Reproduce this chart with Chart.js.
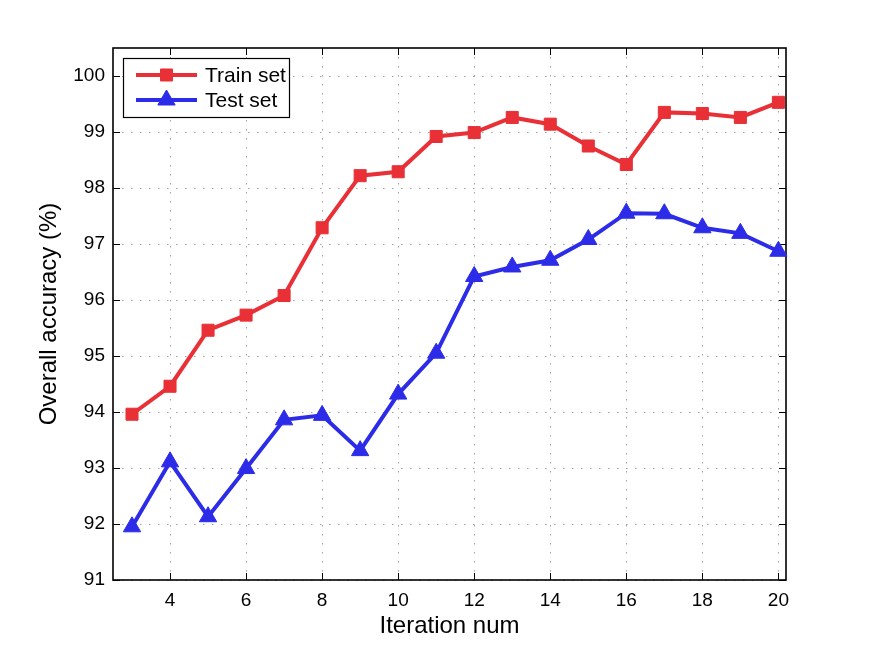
<!DOCTYPE html>
<html>
<head>
<meta charset="utf-8">
<script src="https://cdn.jsdelivr.net/npm/chart.js@4/dist/chart.umd.min.js"></script>
<style>
html,body{margin:0;padding:0;background:#fff;}
#wrap{width:869px;height:653px;}
</style>
</head>
<body>
<div id="wrap"><canvas id="c" width="869" height="653"></canvas></div>
<script>
const iterations = [3,4,5,6,7,8,9,10,11,12,13,14,15,16,17,18,19,20];
const trainSet = [93.96,94.46,95.46,95.73,96.08,97.29,98.22,98.29,98.92,98.99,99.26,99.14,98.75,98.42,99.35,99.33,99.26,99.53];
const testSet  = [91.95,93.11,92.13,92.99,93.86,93.94,93.31,94.32,95.05,96.42,96.59,96.71,97.08,97.55,97.54,97.29,97.19,96.87];
const xTicks = [4,6,8,10,12,14,16,18,20];
const yTicks = [91,92,93,94,95,96,97,98,99,100];
const seriesLabels = ['Train set','Test set'];
const xTitle = 'Iteration num';
const yTitle = 'Overall accuracy (%)';

const RED = 'rgb(232,48,54)';
const BLUE = 'rgb(44,44,232)';
const FONT = "'Liberation Sans', Arial, Helvetica, sans-serif";

const boxPlugin = {
  id: 'boxPlugin',
  beforeDatasetsDraw(chart) {
    const {ctx, chartArea: a, scales: {x, y}} = chart;
    ctx.save();
    ctx.strokeStyle = '#000';
    ctx.lineWidth = 1;
    const tl = 7;
    ctx.beginPath();
    xTicks.forEach(v => {
      const px = Math.round(x.getPixelForValue(v)) + 0.5;
      ctx.moveTo(px, a.bottom); ctx.lineTo(px, a.bottom - tl);
      ctx.moveTo(px, a.top); ctx.lineTo(px, a.top + tl);
    });
    yTicks.forEach(v => {
      const py = Math.round(y.getPixelForValue(v)) + 0.5;
      ctx.moveTo(a.left, py); ctx.lineTo(a.left + tl, py);
      ctx.moveTo(a.right, py); ctx.lineTo(a.right - tl, py);
    });
    ctx.stroke();
    ctx.lineWidth = 1.6;
    ctx.strokeRect(a.left, a.top, a.right - a.left, a.bottom - a.top);
    ctx.restore();
  },
  afterDatasetsDraw(chart) {
    const {ctx} = chart;
    const bx = 123, by = 58, bw = 166, bh = 59;
    ctx.save();
    ctx.fillStyle = '#fff';
    ctx.fillRect(bx, by, bw, bh);
    ctx.strokeStyle = '#000';
    ctx.lineWidth = 1.2;
    ctx.strokeRect(bx + 0.5, by + 0.5, bw, bh);
    const rows = [75, 100];
    chart.data.datasets.forEach((ds, i) => {
      const yy = rows[i];
      ctx.strokeStyle = ds.borderColor;
      ctx.lineWidth = ds.borderWidth;
      ctx.beginPath();
      ctx.moveTo(136, yy); ctx.lineTo(197, yy);
      ctx.stroke();
      ctx.fillStyle = ds.backgroundColor;
      ctx.strokeStyle = ds.borderColor;
      ctx.lineWidth = 1;
      Chart.helpers.drawPoint(ctx, {
        pointStyle: ds.pointStyle, rotation: 0, radius: ds.pointRadius, borderWidth: 1
      }, 166.5, yy);
      ctx.fillStyle = '#000';
      ctx.font = '21px ' + FONT;
      ctx.textBaseline = 'middle';
      ctx.textAlign = 'left';
      ctx.fillText(ds.label, 205, yy + 1);
    });
    ctx.restore();
  }
};

new Chart(document.getElementById('c'), {
  type: 'line',
  data: {
    datasets: [
      {
        label: seriesLabels[0],
        data: iterations.map((v, i) => ({x: v, y: trainSet[i]})),
        borderColor: RED, backgroundColor: RED,
        borderWidth: 4, pointStyle: 'rect', pointRadius: 8.5,
        pointBorderWidth: 1, pointHoverRadius: 8.5, tension: 0, clip: false
      },
      {
        label: seriesLabels[1],
        data: iterations.map((v, i) => ({x: v, y: testSet[i]})),
        borderColor: BLUE, backgroundColor: BLUE,
        borderWidth: 4, pointStyle: 'triangle', pointRadius: 10,
        pointBorderWidth: 1, pointHoverRadius: 10, tension: 0, clip: false
      }
    ]
  },
  options: {
    responsive: false,
    animation: false,
    events: [],
    layout: {padding: {left: 0, top: 48, right: 83, bottom: 0}},
    plugins: {legend: {display: false}, tooltip: {enabled: false}},
    scales: {
      x: {
        type: 'linear', min: 2.5, max: 20.2,
        afterBuildTicks: s => { s.ticks = xTicks.map(v => ({value: v})); },
        afterFit: s => { s.height = 73; },
        grid: {color: 'rgba(130,130,130,0.75)', lineWidth: 1, drawTicks: false},
        border: {display: false, dash: [1.5, 7.5]},
        ticks: {color: '#000', font: {family: FONT, size: 19}, padding: 9, maxRotation: 0,
                callback: v => String(v)},
        title: {display: true, text: xTitle, color: '#000', font: {family: FONT, size: 24},
                padding: {top: 0, bottom: 12.6}}
      },
      y: {
        type: 'linear', min: 91, max: 100.5,
        afterBuildTicks: s => { s.ticks = yTicks.map(v => ({value: v})); },
        afterFit: s => { s.width = 113; },
        grid: {color: 'rgba(130,130,130,0.75)', lineWidth: 1, drawTicks: false},
        border: {display: false, dash: [1.5, 7.5]},
        ticks: {color: '#000', font: {family: FONT, size: 19}, padding: 8,
                callback: v => String(v)},
        title: {display: true, text: yTitle, color: '#000', font: {family: FONT, size: 24},
                padding: {top: 34.6, bottom: 0}}
      }
    }
  },
  plugins: [boxPlugin]
});
</script>
</body>
</html>
